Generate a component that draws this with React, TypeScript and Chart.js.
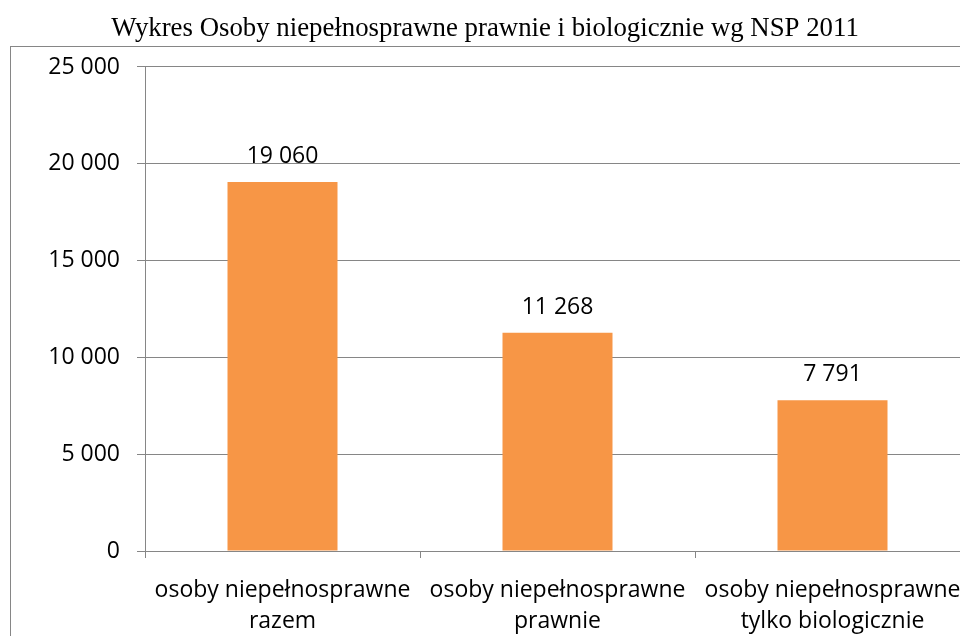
import React, { useEffect, useRef } from "react";
import { Chart, registerables } from "chart.js";

Chart.register(...registerables);

const TITLE = "Wykres Osoby niepełnosprawne prawnie i biologicznie wg NSP 2011";
const categories: string[][] = [
  ["osoby niepełnosprawne", "razem"],
  ["osoby niepełnosprawne", "prawnie"],
  ["osoby niepełnosprawne", "tylko biologicznie"],
];
const values: number[] = [19060, 11268, 7791];
const yMin = 0;
const yMax = 25000;
const yStep = 5000;

const fmt = (v: number) => String(Math.round(v)).replace(/\B(?=(\d{3})+(?!\d))/g, " ");

const LABEL_FONT = { family: "'Open Sans', sans-serif", size: 23 };
const GRAY = "#868686";

export default function App() {
  const ref = useRef<HTMLCanvasElement | null>(null);
  useEffect(() => {
    if (!ref.current) return;
    const borderPlugin = {
      id: "outerBorder",
      beforeDraw(chart: any) {
        const ctx = chart.ctx;
        ctx.save();
        ctx.strokeStyle = GRAY;
        ctx.lineWidth = 1;
        ctx.strokeRect(10.5, 46.5, 3000, 3000);
        ctx.restore();
      },
    };
    const valuePlugin = {
      id: "valueLabels",
      afterDatasetsDraw(chart: any) {
        const ctx = chart.ctx;
        const meta = chart.getDatasetMeta(0);
        ctx.save();
        ctx.font = `${LABEL_FONT.size}px ${LABEL_FONT.family}`;
        ctx.fillStyle = "#000";
        ctx.textAlign = "center";
        ctx.textBaseline = "alphabetic";
        meta.data.forEach((bar: any, i: number) => {
          ctx.fillText(fmt(values[i]), bar.x, bar.y - 19);
        });
        ctx.restore();
      },
    };
    const chart = new Chart(ref.current, {
      type: "bar",
      data: {
        labels: categories,
        datasets: [
          {
            data: values,
            backgroundColor: "#F79646",
            borderWidth: 0,
            barPercentage: 0.4,
            categoryPercentage: 1,
          },
        ],
      },
      options: {
        animation: false,
        responsive: false,
        maintainAspectRatio: false,
        layout: { padding: { left: 0, right: 0, top: 0, bottom: 0 } },
        plugins: {
          legend: { display: false },
          tooltip: { enabled: false },
          title: {
            display: true,
            text: TITLE,
            color: "#000",
            font: { family: "'Liberation Serif', 'Times New Roman', serif", size: 26.8, weight: "normal", lineHeight: 1.2 },
            padding: { top: 13, bottom: 21.8 },
          },
        },
        scales: {
          x: {
            offset: true,
            grid: {
              offset: true,
              drawOnChartArea: false,
              drawTicks: true,
              tickLength: 7,
              color: GRAY,
            },
            border: { display: true, color: GRAY, width: 1 },
            ticks: {
              color: "#000",
              font: { ...LABEL_FONT, lineHeight: 31 / 23 },
              padding: 17,
              maxRotation: 0,
              autoSkip: false,
            },
            afterFit(scale: any) {
              scale.height = 89;
              scale.paddingLeft = 0;
              scale.paddingRight = 0;
            },
          },
          y: {
            min: yMin,
            max: yMax,
            grid: { color: GRAY, drawTicks: true, tickLength: 8 },
            border: { display: true, color: GRAY, width: 1 },
            ticks: {
              stepSize: yStep,
              color: "#000",
              font: LABEL_FONT,
              padding: 17,
              callback: (v: any) => fmt(Number(v)),
            },
            afterFit(scale: any) {
              scale.width = 145;
              scale.paddingTop = 0;
              scale.paddingBottom = 0;
            },
          },
        },
      },
      plugins: [borderPlugin, valuePlugin],
    });
    return () => chart.destroy();
  }, []);
  return (
    <div style={{ position: "fixed", left: 0, top: 0, width: 960, height: 636, overflow: "hidden", background: "#fff" }}>
      <canvas ref={ref} width={970} height={640} style={{ position: "absolute", left: 0, top: 0, width: 970, height: 640 }} />
    </div>
  );
}
